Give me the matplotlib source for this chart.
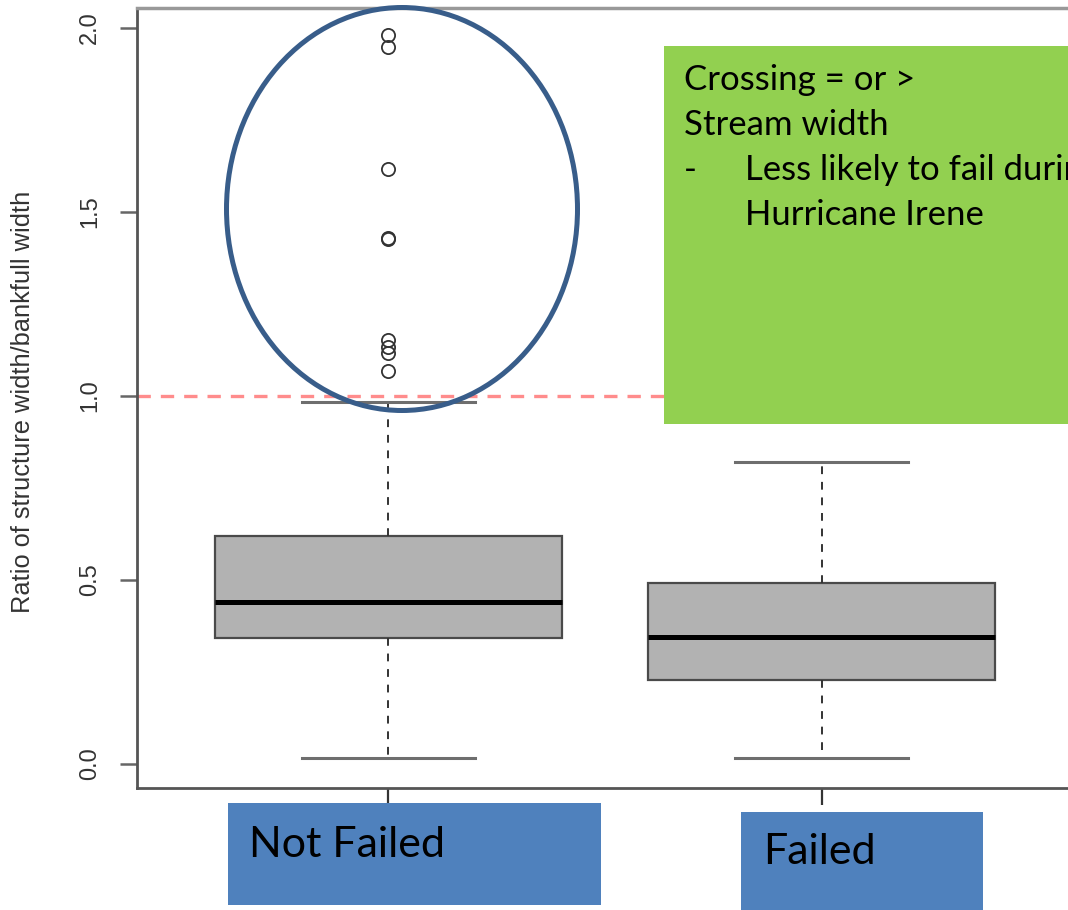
import matplotlib
matplotlib.use("Agg")
import matplotlib.pyplot as plt
from matplotlib.patches import Rectangle, Ellipse

# ---------------- data ----------------
categories = ["Not Failed", "Failed"]
q1 = [0.342, 0.228]
medians = [0.440, 0.345]
q3 = [0.620, 0.492]
whisker_low = [0.016, 0.016]
whisker_high = [0.984, 0.821]
outliers_not_failed = [1.980, 1.947, 1.617, 1.429, 1.427, 1.152, 1.133, 1.117, 1.068]
outliers_failed = []
y_ticks = [0.0, 0.5, 1.0, 1.5, 2.0]
y_tick_labels = ["0.0", "0.5", "1.0", "1.5", "2.0"]
threshold = 1.0
y_label = "Ratio of structure width/bankfull width"
note_lines = ["Crossing = or >", "Stream width", "Less likely to fail during", "Hurricane Irene"]

# ---------------- figure ----------------
W, H = 1068, 910
fig = plt.figure(figsize=(W / 100, H / 100), dpi=100)
fig.patch.set_facecolor("white")


def fx(x):
    return x / W


def fy(y):
    return 1 - y / H


ax = fig.add_axes([fx(137), fy(788), (1073 - 137) / W, (788 - 8) / H])

fliers = [outliers_not_failed, outliers_failed]
stats = []
for i, cat in enumerate(categories):
    stats.append(dict(label=cat, med=medians[i], q1=q1[i], q3=q3[i],
                      whislo=whisker_low[i], whishi=whisker_high[i],
                      fliers=fliers[i]))

ax.axhline(threshold, color="#ff8c8c", lw=2.4, ls=(0, (4, 3)), zorder=1)

ax.bxp(stats, positions=[1, 2], widths=0.8, capwidths=0.4, patch_artist=True,
       boxprops=dict(facecolor="#b2b2b2", edgecolor="#4a4a4a", lw=1.6),
       medianprops=dict(color="black", lw=3.6),
       whiskerprops=dict(color="#333333", lw=1.4, ls=(0, (4, 4))),
       capprops=dict(color="#6e6e6e", lw=2.2),
       flierprops=dict(marker="o", markerfacecolor="none", markeredgecolor="#333333",
                       markersize=9.5, markeredgewidth=1.3),
       zorder=2)

ax.set_xlim(0.42, 2.58)
ax.set_ylim(-0.065, 2.054)
ax.set_yticks(y_ticks)
ax.set_yticklabels(y_tick_labels, rotation=90, va="center",
                   fontfamily="Liberation Sans", fontsize=17, color="#333333")
ax.set_xticks([1, 2])
ax.set_xticklabels(["", ""])
ax.tick_params(axis="y", length=12, width=1.8, color="#666666", pad=14)
ax.tick_params(axis="x", length=12, width=1.6, color="#333333")
for s in ["left", "bottom"]:
    ax.spines[s].set_color("#555555")
    ax.spines[s].set_linewidth(2)
ax.spines["top"].set_color("#999999")
ax.spines["top"].set_linewidth(2.5)
ax.spines["right"].set_visible(False)

fig.text(fx(23), fy(402), y_label, rotation=90, ha="center", va="center",
         fontfamily="Liberation Sans", fontsize=18.3, color="#333333")

# ellipse highlight
fig.patches.append(Ellipse((fx(402), fy(209)), 351 / W, 403 / H, transform=fig.transFigure,
                           facecolor="none", edgecolor="#385d8a", lw=3.6, zorder=6))

# green note box
fig.patches.append(Rectangle((fx(664), fy(424)), (1080 - 664) / W, (424 - 46) / H,
                             transform=fig.transFigure, facecolor="#92d050",
                             edgecolor="none", zorder=5))
note_font = dict(fontfamily="Lato", fontsize=25, color="black", va="center", zorder=7)
fig.text(fx(684), fy(80), note_lines[0], **note_font)
fig.text(fx(684), fy(125), note_lines[1], **note_font)
fig.text(fx(684), fy(170), "-", **note_font)
fig.text(fx(745), fy(170), note_lines[2], **note_font)
fig.text(fx(745), fy(215), note_lines[3], **note_font)

# blue category boxes
label_font = dict(fontfamily="Lato", fontsize=31, color="black", va="center", zorder=7)
fig.patches.append(Rectangle((fx(228), fy(905)), (601 - 228) / W, (905 - 803) / H,
                             transform=fig.transFigure, facecolor="#4f81bd",
                             edgecolor="none", zorder=5))
fig.text(fx(249), fy(845), categories[0], **label_font)
fig.patches.append(Rectangle((fx(741), fy(912)), (983 - 741) / W, (912 - 812) / H,
                             transform=fig.transFigure, facecolor="#4f81bd",
                             edgecolor="none", zorder=5))
fig.text(fx(763), fy(852), categories[1], **label_font)

fig.savefig("out.png", dpi=100)
